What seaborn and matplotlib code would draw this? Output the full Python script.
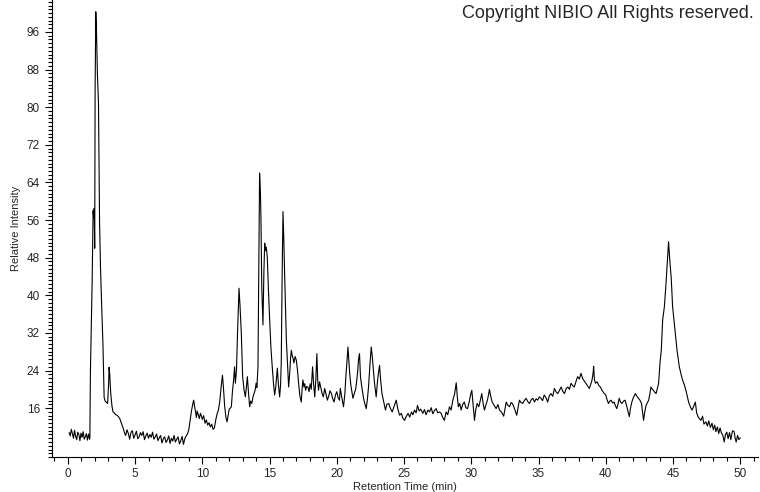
import matplotlib
matplotlib.use("Agg")
import matplotlib.pyplot as plt
import pandas as pd
import seaborn as sns
from matplotlib.ticker import MultipleLocator

# retention time (min) and relative intensity
seg_start_t = [0.10, 0.18, 0.26, 0.34, 0.42, 0.50, 0.58, 0.66, 0.74, 0.82,
               0.90, 0.98, 1.06, 1.14, 1.22, 1.30, 1.38, 1.46, 1.54, 1.62]
seg_start_v = [10.8, 10.1, 11.5, 10.6, 9.6, 11.3, 10.0, 9.3, 10.9, 10.4,
               9.1, 10.7, 9.8, 11.0, 9.4, 9.9, 10.6, 9.2, 10.5, 9.4]

main_peak_t = [1.64, 1.68, 1.81, 1.88, 1.92, 1.96, 2.00, 2.03, 2.08, 2.13,
               2.20, 2.28, 2.36, 2.43, 2.52, 2.61, 2.70, 2.78, 2.88, 2.96,
               3.03, 3.07, 3.12, 3.19, 3.28, 3.36, 3.46, 3.56, 3.66, 3.76,
               3.86, 3.96, 4.04, 4.12, 4.22]
main_peak_v = [10.0, 23.7, 43.0, 58.0, 56.5, 58.5, 50.0, 84.0, 100.3, 96.4,
               87.0, 81.0, 55.6, 46.0, 37.5, 29.8, 18.3, 17.5, 17.2, 17.0,
               21.0, 24.7, 23.0, 19.2, 16.5, 15.2, 15.0, 14.6, 14.5, 14.2,
               13.8, 13.0, 12.3, 11.7, 10.7]

baseline_t = [4.3, 4.4, 4.5, 4.6, 4.7, 4.8, 4.9, 5.0, 5.1, 5.2, 5.3, 5.4,
              5.5, 5.6, 5.7, 5.8, 5.9, 6.0, 6.1, 6.2, 6.3, 6.4, 6.5, 6.6,
              6.7, 6.8, 6.9, 7.0, 7.1, 7.2, 7.3, 7.4, 7.5, 7.6, 7.7, 7.8,
              7.9, 8.0, 8.1, 8.2, 8.3, 8.4, 8.5, 8.6, 8.7, 8.8]
baseline_v = [10.2, 11.4, 10.6, 9.4, 10.9, 11.2, 9.6, 10.3, 11.1, 9.5, 9.9, 10.8,
              10.2, 11.0, 9.3, 10.1, 10.7, 9.6, 10.4, 9.8, 10.9, 9.4, 9.9, 10.5,
              9.1, 9.7, 10.2, 8.6, 9.5, 9.9, 8.7, 9.2, 10.1, 8.5, 9.6, 9.0,
              10.2, 8.8, 9.4, 9.9, 8.4, 9.1, 10.0, 8.3, 9.5, 10.1]

middle_t = [8.9, 9.0, 9.1, 9.2, 9.3, 9.36, 9.42, 9.5, 9.56, 9.62, 9.7, 9.78,
            9.86, 9.94, 10.0, 10.1, 10.2, 10.3, 10.4, 10.5, 10.6, 10.7, 10.8, 10.9,
            11.0, 11.1, 11.2, 11.3, 11.4, 11.5, 11.58, 11.66, 11.76, 11.84, 11.92, 12.0,
            12.08, 12.16, 12.24, 12.33, 12.4, 12.46, 12.54, 12.62, 12.73, 12.8, 12.9, 13.0,
            13.1, 13.2, 13.28, 13.35, 13.43, 13.52, 13.6, 13.68, 13.77, 13.86, 13.94, 14.0,
            14.06, 14.14, 14.2, 14.26, 14.32, 14.36, 14.42, 14.51, 14.58, 14.64, 14.7, 14.76,
            14.83, 14.92, 15.0, 15.1, 15.2, 15.3, 15.38, 15.46, 15.52, 15.58, 15.66, 15.75,
            15.82, 15.87, 15.94, 16.0, 16.06, 16.12, 16.2, 16.25, 16.34, 16.42, 16.5, 16.56,
            16.62, 16.7, 16.76, 16.81, 16.9, 16.99, 17.08, 17.16, 17.26, 17.36, 17.42, 17.48,
            17.56, 17.62, 17.68, 17.76, 17.85, 17.94, 18.02, 18.1, 18.2, 18.28, 18.36, 18.44,
            18.52, 18.58, 18.64, 18.72, 18.8, 18.9, 19.0, 19.1, 19.2, 19.3, 19.4, 19.5,
            19.6, 19.7, 19.8, 19.9, 20.0, 20.1, 20.2, 20.26, 20.36, 20.5, 20.6, 20.68,
            20.76, 20.83, 20.9, 20.96, 21.04, 21.12, 21.2, 21.3, 21.4, 21.46, 21.56, 21.62,
            21.69, 21.76, 21.86, 21.99, 22.08, 22.19, 22.28, 22.36, 22.46, 22.56, 22.64, 22.7,
            22.8, 22.93, 23.02, 23.1, 23.18, 23.26, 23.36, 23.48, 23.62, 23.72, 23.86, 23.98,
            24.12, 24.26, 24.42, 24.54, 24.67, 24.8, 24.92, 25.04, 25.16, 25.3, 25.42, 25.56,
            25.66, 25.78, 25.9, 26.0, 26.12, 26.24, 26.4, 26.52, 26.64, 26.78, 26.9, 27.02,
            27.14, 27.26, 27.39, 27.5, 27.64, 27.76, 27.88, 28.0, 28.13, 28.25, 28.38, 28.5,
            28.63, 28.76, 28.88, 28.96, 29.04, 29.14, 29.25, 29.36, 29.48, 29.6, 29.72, 29.84,
            29.96, 30.04, 30.14, 30.24, 30.34, 30.44, 30.56, 30.66, 30.78, 30.88, 30.98, 31.1,
            31.2, 31.28, 31.35, 31.45, 31.55, 31.7, 31.85, 31.98, 32.1, 32.24, 32.41, 32.52,
            32.6, 32.72, 32.85, 32.96, 33.06, 33.2, 33.38, 33.5, 33.58, 33.7, 33.82, 33.94,
            34.08, 34.2, 34.32, 34.46, 34.58, 34.7, 34.82, 34.94, 35.06, 35.18, 35.3, 35.42,
            35.56, 35.68, 35.8, 35.93, 36.06, 36.18, 36.3, 36.43, 36.56, 36.68, 36.8, 36.93,
            37.06, 37.18, 37.3, 37.42, 37.54, 37.66, 37.78, 37.91, 38.04, 38.16, 38.28, 38.4,
            38.53, 38.66, 38.78, 38.9, 38.98, 39.06, 39.1, 39.16, 39.24, 39.36, 39.47, 39.6,
            39.72, 39.86, 40.0, 40.1, 40.2, 40.3, 40.4, 40.52, 40.62, 40.72, 40.82, 40.92,
            41.0, 41.1, 41.2, 41.32, 41.44, 41.56, 41.66, 41.75, 41.84, 41.94, 42.06, 42.2,
            42.32, 42.44, 42.56, 42.66, 42.74, 42.81, 42.9, 43.0, 43.1, 43.19, 43.28, 43.36,
            43.46, 43.54, 43.64, 43.74, 43.84, 43.93]
middle_v = [10.5, 11.5, 13.5, 15.5, 17.0, 17.7, 16.5, 15.2, 14.0, 15.4, 14.6, 13.8,
            14.9, 14.3, 13.6, 14.4, 12.8, 13.5, 12.4, 12.9, 12.0, 12.6, 11.5, 11.8,
            13.5, 14.8, 15.6, 17.5, 20.5, 23.0, 20.0, 16.5, 14.0, 13.1, 14.5, 15.8,
            16.0, 16.3, 19.5, 22.0, 24.8, 21.3, 24.0, 32.0, 41.5, 38.0, 32.0, 22.7,
            20.0, 18.4, 20.5, 22.7, 19.5, 16.3, 17.5, 17.0, 18.4, 19.2, 20.0, 21.3,
            20.4, 24.8, 45.0, 66.0, 62.0, 56.7, 42.0, 33.7, 45.0, 51.1, 49.5, 50.2,
            48.2, 41.0, 35.4, 29.0, 24.8, 21.0, 18.8, 20.5, 22.5, 24.5, 21.0, 18.4,
            21.0, 25.6, 45.0, 57.8, 52.0, 44.7, 36.0, 30.5, 25.0, 20.5, 23.5, 26.5,
            28.3, 27.0, 26.5, 25.6, 27.0, 26.2, 24.0, 21.3, 18.5, 17.3, 20.0, 22.0,
            20.5, 21.2, 19.8, 20.6, 20.5, 19.5, 21.2, 20.0, 24.8, 21.0, 18.4, 22.0,
            27.6, 22.0, 19.8, 21.6, 20.5, 19.2, 18.4, 20.2, 19.0, 17.7, 18.6, 19.7,
            19.1, 18.0, 17.3, 18.8, 19.5, 18.2, 17.7, 20.2, 18.5, 16.3, 19.0, 23.0,
            26.0, 29.0, 26.0, 23.4, 21.0, 19.5, 18.1, 19.1, 20.0, 21.3, 24.0, 26.5,
            27.6, 22.7, 20.5, 18.1, 17.0, 15.9, 18.0, 20.5, 25.0, 29.0, 27.0, 24.8,
            21.5, 18.4, 21.5, 23.5, 25.1, 22.0, 19.1, 17.5, 15.6, 16.8, 17.0, 16.0,
            15.2, 16.4, 17.7, 15.8, 14.5, 14.9, 13.8, 13.4, 14.2, 14.9, 14.1, 15.2,
            14.6, 15.6, 15.0, 16.6, 15.4, 15.8, 14.9, 15.7, 14.6, 15.6, 15.2, 16.1,
            14.8, 15.5, 15.9, 15.0, 15.2, 14.9, 14.0, 13.4, 15.2, 14.6, 16.3, 15.6,
            17.7, 19.0, 21.4, 18.5, 16.3, 17.0, 15.6, 16.8, 17.3, 16.1, 15.9, 17.2,
            19.0, 19.8, 16.5, 13.4, 15.8, 17.0, 16.3, 17.5, 19.1, 17.0, 15.6, 16.8,
            17.7, 18.8, 20.0, 18.5, 17.3, 16.6, 15.9, 16.8, 15.6, 15.2, 14.3, 16.0,
            17.3, 16.6, 16.3, 17.2, 17.0, 16.0, 14.5, 16.4, 17.7, 17.2, 17.0, 17.6,
            18.1, 17.4, 17.0, 17.8, 18.1, 17.3, 18.0, 17.7, 18.4, 18.1, 17.6, 18.8,
            18.2, 17.3, 18.6, 19.1, 18.5, 20.2, 19.5, 19.1, 19.8, 20.5, 19.6, 19.1,
            20.2, 20.5, 20.0, 21.3, 20.8, 20.5, 21.6, 22.7, 22.2, 23.4, 22.3, 21.8,
            21.3, 20.7, 20.2, 21.2, 22.0, 23.5, 24.9, 22.0, 21.3, 21.6, 20.9, 20.5,
            19.8, 19.2, 18.8, 17.8, 17.0, 17.5, 17.7, 17.1, 17.3, 16.5, 15.9, 17.0,
            18.1, 17.3, 17.0, 17.5, 17.7, 16.4, 15.2, 14.2, 16.0, 17.3, 18.3, 19.1,
            18.5, 18.1, 17.6, 17.0, 15.0, 13.4, 15.2, 16.6, 17.2, 17.7, 19.0, 20.5,
            20.0, 19.8, 19.4, 19.1, 20.2, 21.3]

late_peak_t = [44.03, 44.13, 44.23, 44.36, 44.48, 44.6, 44.67, 44.76, 44.87, 44.97,
               45.12, 45.3, 45.47, 45.6, 45.71, 45.84, 45.96, 46.06, 46.16, 46.3,
               46.42, 46.54, 46.66, 46.76, 46.86, 46.96, 47.08, 47.2, 47.3, 47.45,
               47.56, 47.66, 47.78, 47.9, 48.0, 48.1, 48.19, 48.3, 48.4, 48.5,
               48.6, 48.7, 48.81, 48.9, 49.0, 49.1, 49.2, 49.3, 49.42, 49.55,
               49.62, 49.7, 49.8, 49.9, 50.0]
late_peak_v = [25.5, 28.3, 34.7, 37.6, 42.5, 48.2, 51.4, 47.5, 43.6, 37.6,
               33.3, 28.3, 24.8, 23.2, 22.0, 21.0, 19.8, 18.5, 17.3, 16.2,
               15.6, 16.4, 17.3, 15.0, 14.2, 13.8, 13.4, 14.3, 12.6, 13.1,
               12.2, 13.3, 11.9, 12.8, 11.4, 12.4, 11.0, 12.0, 10.6, 11.8,
               10.7, 10.3, 8.8, 10.4, 10.9, 9.5, 10.8, 9.3, 11.2, 11.0,
               9.6, 8.8, 10.2, 9.3, 9.7]

y_ticks = [16, 24, 32, 40, 48, 56, 64, 72, 80, 88, 96]
x_ticks = [0, 5, 10, 15, 20, 25, 30, 35, 40, 45, 50]

df = pd.DataFrame({
    "time": seg_start_t + main_peak_t + baseline_t + middle_t + late_peak_t,
    "intensity": seg_start_v + main_peak_v + baseline_v + middle_v + late_peak_v,
})

sns.set_style("ticks")
plt.rcParams["font.family"] = ["Liberation Sans", "DejaVu Sans"]

fig = plt.figure(figsize=(7.6, 4.92), dpi=100)
ax = fig.add_axes([0.068, 0.071, 0.929, 0.929])

sns.lineplot(data=df, x="time", y="intensity", color="black", linewidth=0.8,
             sort=False, estimator=None, ax=ax)

ax.set_xlim(-1.2, 51.3)
ax.set_ylim(5.6, 102.8)
ax.set_xticks(x_ticks)
ax.set_yticks(y_ticks)
ax.xaxis.set_minor_locator(MultipleLocator(1))
ax.yaxis.set_minor_locator(MultipleLocator(0.8))
ax.tick_params(axis="both", which="major", length=5, width=0.8, labelsize=8.5,
               color="black", direction="out")
ax.tick_params(axis="both", which="minor", length=3, width=0.8, color="black")
ax.tick_params(axis="x", pad=3)

for side in ["top", "right"]:
    ax.spines[side].set_visible(False)
for side in ["left", "bottom"]:
    ax.spines[side].set_color("black")
    ax.spines[side].set_linewidth(0.8)

ax.set_xlabel("Retention Time (min)", fontsize=8, labelpad=1)
ax.set_ylabel("Relative Intensity", fontsize=8, labelpad=4)

fig.text(0.992, 0.99, "Copyright NIBIO All Rights reserved.", ha="right",
         va="top", fontsize=13)

fig.savefig("out.png", dpi=100, facecolor="white")
